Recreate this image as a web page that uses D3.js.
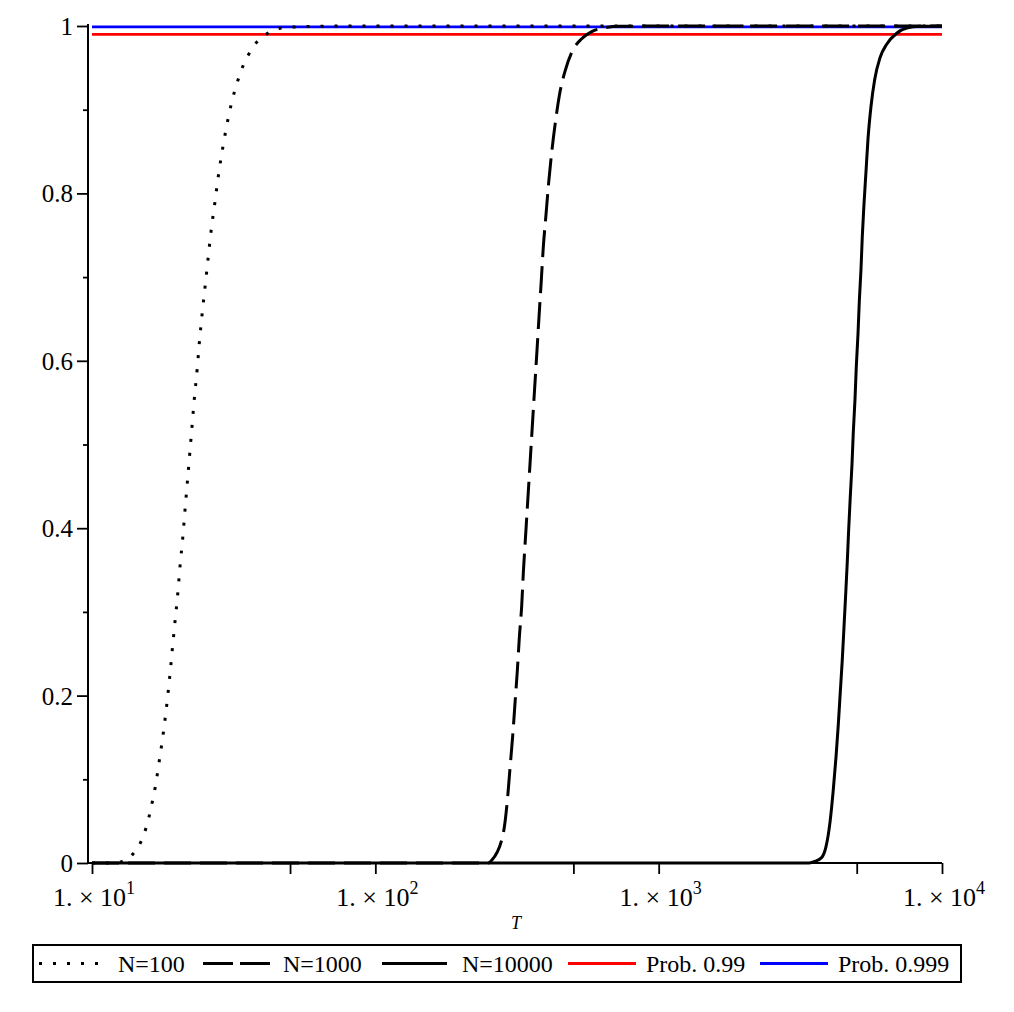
<!DOCTYPE html>
<html><head><meta charset="utf-8">
<script src="https://cdn.jsdelivr.net/npm/d3@7"></script>
<style>
body{margin:0;background:#fff;}
svg text{font-family:"Liberation Serif","Times New Roman",serif;fill:#000;}
</style></head>
<body><svg id="c" width="1014" height="1012"></svg>
<script>
// ---- data ----
const n100T = [10, 12.0, 12.73, 13.95, 14.85, 15.47, 15.93, 16.32, 16.69, 17.28, 17.85, 18.35, 18.80, 19.20, 19.63, 20.07, 20.45, 20.90, 21.29, 21.70, 22.12, 22.54, 22.97, 23.48, 23.92, 24.45, 25.05, 25.67, 26.30, 27.11, 27.92, 28.93, 30.13, 31.71, 32.76, 34.03, 35.74, 38.02, 41.70, 46.08, 52, 58.8, 70, 100, 1000, 10000];
const n100P = [0, 0, 0.0016, 0.0108, 0.0247, 0.0406, 0.0565, 0.0729, 0.0892, 0.1222, 0.1553, 0.1884, 0.2219, 0.2548, 0.2883, 0.3214, 0.3548, 0.3879, 0.4214, 0.4548, 0.4883, 0.5213, 0.5547, 0.5882, 0.6213, 0.6547, 0.6878, 0.7213, 0.7542, 0.7877, 0.8208, 0.8542, 0.8869, 0.9196, 0.9355, 0.9514, 0.9662, 0.9801, 0.9913, 0.9973, 0.9989, 0.9995, 0.9999, 1, 1, 1];

const n1000T = [10, 250, 257.5, 282.9, 292.3, 298.8, 305.4, 311.2, 317.1, 322.2, 328.6, 332.9, 338.3, 343.9, 349.5, 355.2, 361.0, 366.9, 373.0, 379.0, 385.3, 391.5, 400.2, 409.1, 420.2, 431.7, 446.0, 467.1, 493.3, 535.0, 580.3, 637.7, 730.5, 1000, 10000];
const n1000P = [0, 0, 0.0032, 0.0356, 0.0744, 0.1135, 0.1522, 0.1912, 0.2300, 0.2688, 0.3078, 0.3466, 0.3854, 0.4244, 0.4632, 0.5020, 0.5410, 0.5798, 0.6188, 0.6576, 0.6964, 0.7354, 0.7742, 0.8131, 0.8520, 0.8843, 0.9167, 0.9459, 0.9686, 0.9848, 0.9933, 0.9977, 0.9996, 1, 1];

const n10000T = [10, 3400, 3562, 3762, 3896, 4024, 4133, 4225, 4305, 4375, 4447, 4509, 4571, 4631, 4684, 4745, 4812, 4864, 4931, 4983, 5052, 5106, 5177, 5232, 5305, 5392, 5480, 5615, 5787, 6042, 6380, 6921, 7506, 8363, 10000];
const n10000P = [0, 0, 0.0019, 0.0065, 0.0195, 0.0486, 0.0875, 0.1263, 0.1652, 0.2041, 0.2429, 0.2818, 0.3207, 0.3595, 0.3984, 0.4373, 0.4762, 0.5151, 0.5539, 0.5928, 0.6317, 0.6706, 0.7094, 0.7483, 0.7872, 0.8260, 0.8649, 0.9038, 0.9362, 0.9621, 0.9782, 0.9913, 0.9977, 0.9996, 1];

const thresholds = [0.99, 0.999];
const thresholdNames = ["Prob. 0.99", "Prob. 0.999"];
const seriesNames = ["N=100", "N=1000", "N=10000"];
const xTickValues = [10, 50, 100, 500, 1000, 5000, 10000];
const xLabelValues = [10, 100, 1000, 10000];
const xLabelExponents = ["1", "2", "3", "4"];
const yMajorTicks = [0, 0.2, 0.4, 0.6, 0.8, 1];
const yMinorTicks = [0.1, 0.3, 0.5, 0.7, 0.9];
const yTickLabels = ["0", "0.2", "0.4", "0.6", "0.8", "1"];
const xAxisTitle = "T";

// ---- layout ----
const FONT = "Liberation Serif";
const svg = d3.select("#c");
const x = d3.scaleLog().domain([9.68, 10000]).range([88, 942]);
const y = d3.scaleLinear().domain([0, 1]).range([863, 26]);

// axes
const gx = svg.append("g").attr("transform", "translate(0,863)")
  .call(d3.axisBottom(x).tickValues(xTickValues).tickFormat("").tickSize(11).tickSizeOuter(0));
gx.select(".domain").attr("stroke-width", 2).attr("d", "M88,0H942");
gx.selectAll(".tick line").attr("stroke-width", 1.8);

const gy = svg.append("g").attr("transform", "translate(88,0)")
  .call(d3.axisLeft(y).tickValues(yMajorTicks).tickFormat((d, i) => yTickLabels[i]).tickSize(11).tickSizeOuter(0).tickPadding(4));
gy.attr("font-family", FONT);
gy.select(".domain").attr("stroke-width", 2).attr("d", "M0,863V24");
gy.selectAll(".tick line").attr("stroke-width", 1.8);
gy.selectAll(".tick text").attr("font-size", 25).attr("font-family", FONT).attr("dy", "0.34em");

const gy2 = svg.append("g").attr("transform", "translate(88,0)")
  .call(d3.axisLeft(y).tickValues(yMinorTicks).tickFormat("").tickSize(5).tickSizeOuter(0));
gy2.select(".domain").remove();
gy2.selectAll(".tick line").attr("stroke-width", 1.8);

// x labels 1. × 10^k
xLabelValues.forEach((v, i) => {
  const t = svg.append("text").attr("x", x(v) + 2).attr("y", 906)
    .attr("text-anchor", "middle").attr("font-size", 26).attr("font-family", FONT);
  t.append("tspan").text("1. \u00d7 10");
  t.append("tspan").attr("font-size", 18).attr("dy", -12).text(xLabelExponents[i]);
});
svg.append("text").attr("x", 516).attr("y", 929).attr("text-anchor", "middle")
  .attr("font-size", 18).attr("font-style", "italic").attr("font-family", FONT).text(xAxisTitle);

// threshold lines
const thrColors = ["#ff0000", "#0000ff"];
thresholds.forEach((p, i) => {
  svg.append("line").attr("x1", x(10)).attr("x2", x(10000)).attr("y1", y(p)).attr("y2", y(p))
    .attr("stroke", thrColors[i]).attr("stroke-width", 2.8);
});

// curves
const line = d3.line().x(d => x(d[0])).y(d => y(d[1])).curve(d3.curveMonotoneX);
const series = [
  {T: n100T, P: n100P, dash: "3 11", w: 3},
  {T: n1000T, P: n1000P, dash: "27 9", w: 3},
  {T: n10000T, P: n10000P, dash: null, w: 3}
];
series.forEach(s => {
  const pts = s.T.map((t, i) => [t, s.P[i]]);
  const p = svg.append("path").attr("d", line(pts)).attr("fill", "none")
    .attr("stroke", "#000").attr("stroke-width", s.w);
  if (s.dash) p.attr("stroke-dasharray", s.dash);
});

// legend
const lg = svg.append("g");
lg.append("rect").attr("x", 33).attr("y", 945).attr("width", 928).attr("height", 37)
  .attr("fill", "none").attr("stroke", "#000").attr("stroke-width", 2);
const ly = 963.5;
const legendItems = [
  {x1: 39, x2: 100, tx: 118, name: seriesNames[0], color: "#000", dash: "3 11", w: 3},
  {x1: 203, x2: 272, tx: 283, name: seriesNames[1], color: "#000", dash: "30 7", w: 3},
  {x1: 382, x2: 447, tx: 462, name: seriesNames[2], color: "#000", dash: null, w: 3},
  {x1: 568, x2: 636, tx: 646, name: thresholdNames[0], color: thrColors[0], dash: null, w: 3},
  {x1: 760, x2: 828, tx: 838, name: thresholdNames[1], color: thrColors[1], dash: null, w: 3}
];
legendItems.forEach(it => {
  const l = lg.append("line").attr("x1", it.x1).attr("x2", it.x2).attr("y1", ly).attr("y2", ly)
    .attr("stroke", it.color).attr("stroke-width", it.w);
  if (it.dash) l.attr("stroke-dasharray", it.dash);
  lg.append("text").attr("x", it.tx).attr("y", ly).attr("dy", "0.35em")
    .attr("font-size", 24).attr("font-family", FONT).text(it.name);
});
</script></body></html>
